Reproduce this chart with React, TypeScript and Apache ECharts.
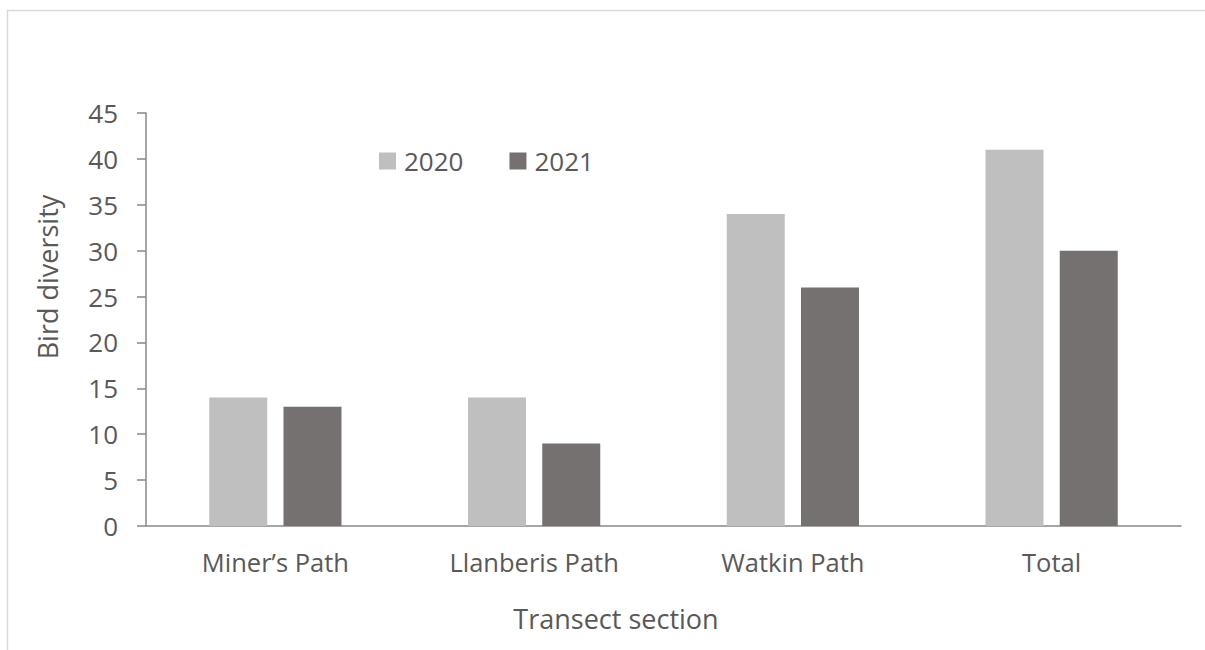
import React, { useEffect, useRef } from "react";
import * as echarts from "echarts";

const categories = ["Miner’s Path", "Llanberis Path", "Watkin Path", "Total"];
const values2020 = [14, 14, 34, 41];
const values2021 = [13, 9, 26, 30];
const seriesNames = ["2020", "2021"];
const yTitle = "Bird diversity";
const xTitle = "Transect section";

const FONT = "'Open Sans', 'Noto Sans', sans-serif";
const TEXT = "#595959";
const AXIS = "#898989";

export default function App() {
  const ref = useRef<HTMLDivElement>(null);
  useEffect(() => {
    if (!ref.current) return;
    const chart = echarts.init(ref.current, undefined, { renderer: "svg" });
    chart.setOption({
      animation: false,
      backgroundColor: "#ffffff",
      grid: { left: 146, right: 24, top: 113, bottom: 124, containLabel: false },
      legend: {
        data: seriesNames,
        left: 374,
        top: 143,
        itemWidth: 17,
        itemHeight: 17,
        itemGap: 46,
        icon: "rect",
        textStyle: { fontFamily: FONT, fontSize: 26, color: TEXT, padding: [0, 0, 0, 3] },
      },
      xAxis: {
        type: "category",
        data: categories,
        axisLine: { show: true, lineStyle: { color: AXIS, width: 1.5 } },
        axisTick: { show: false },
        axisLabel: { fontFamily: FONT, fontSize: 25.5, color: TEXT, margin: 23 },
        splitLine: { show: false },
      },
      yAxis: {
        type: "value",
        min: 0,
        max: 45,
        interval: 5,
        axisLine: { show: true, lineStyle: { color: AXIS, width: 1.5 } },
        axisTick: { show: true, inside: false, length: 9, lineStyle: { color: AXIS, width: 1.5 } },
        axisLabel: { fontFamily: FONT, fontSize: 26, color: TEXT, margin: 28 },
        splitLine: { show: false },
      },
      series: [
        {
          name: seriesNames[0],
          type: "bar",
          data: values2020,
          barWidth: 58,
          barGap: "28%",
          itemStyle: { color: "#BFBFBF" },
        },
        {
          name: seriesNames[1],
          type: "bar",
          data: values2021,
          barWidth: 58,
          barGap: "28%",
          itemStyle: { color: "#767171" },
        },
      ],
      graphic: [
        {
          type: "rect",
          shape: { x: 7.5, y: 10.5, width: 1300, height: 800 },
          style: { fill: "none", stroke: "#d9d9d9", lineWidth: 1.5 },
          silent: true,
        },
        {
          type: "text",
          x: 616,
          y: 618,
          style: {
            text: xTitle,
            fontFamily: FONT,
            fontSize: 27,
            fill: TEXT,
            align: "center",
            verticalAlign: "middle",
          },
        },
        {
          type: "text",
          x: 47,
          y: 277,
          rotation: Math.PI / 2,
          style: {
            text: yTitle,
            fontFamily: FONT,
            fontSize: 27,
            fill: TEXT,
            align: "center",
            verticalAlign: "middle",
          },
        },
      ],
    });
    return () => chart.dispose();
  }, []);
  return (
    <div
      ref={ref}
      style={{ position: "absolute", left: 0, top: 0, width: 1205, height: 650 }}
    />
  );
}
